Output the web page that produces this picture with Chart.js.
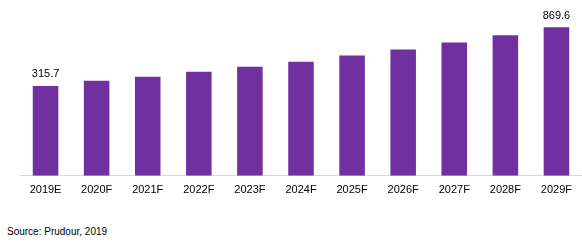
<!DOCTYPE html>
<html>
<head>
<meta charset="utf-8">
<script src="https://cdn.jsdelivr.net/npm/chart.js@4"></script>
<style>
    html, body { margin: 0; padding: 0; background: #fff; }
    #wrap { position: relative; width: 582px; height: 243px; }
    #chartBox { position: absolute; left: 0; top: 0; width: 582px; height: 205px; }
    #source {
        position: absolute; left: 7px; top: 226px;
        font: 10px "Liberation Sans", Arial, sans-serif; color: #000;
    }
</style>
</head>
<body>
<div id="wrap">
    <div id="chartBox"><canvas id="chart"></canvas></div>
    <div id="source">Source: Prudour, 2019</div>
</div>
<script>
"use strict";

// Chart data
const years = ["2019E", "2020F", "2021F", "2022F", "2023F", "2024F", "2025F", "2026F", "2027F", "2028F", "2029F"];
const values = [315.7, 364, 402, 450, 497, 545, 603, 660, 727, 794, 869.6];
const labelledBars = [0, 10];   // only first and last bars carry a value label

// Value axis is truncated in the original picture
const yMin = -534;
const yMax = 1128;

// Draw value labels above selected bars
const valueLabels = {
    id: "valueLabels",
    afterDatasetsDraw(chart) {
        const ctx = chart.ctx;
        const meta = chart.getDatasetMeta(0);
        ctx.save();
        ctx.font = "11px 'Liberation Sans', Arial, sans-serif";
        ctx.fillStyle = "#000";
        ctx.textAlign = "center";
        ctx.textBaseline = "bottom";
        labelledBars.forEach(function (i) {
            const bar = meta.data[i];
            ctx.fillText(values[i].toFixed(1), bar.x, bar.y - 6);
        });
        ctx.restore();
    }
};

const config = {
    type: "bar",
    data: {
        labels: years,
        datasets: [{
            data: values,
            base: yMin,
            backgroundColor: "#7030A0",
            barPercentage: 0.5,
            categoryPercentage: 1.0
        }]
    },
    options: {
        responsive: true,
        maintainAspectRatio: false,
        animation: false,
        layout: { padding: { left: 20, right: 0, top: 0, bottom: 0 } },
        plugins: {
            legend: { display: false },
            tooltip: { enabled: false }
        },
        scales: {
            x: {
                grid: { display: false, drawTicks: false },
                border: { display: true, color: "#d9d9d9", width: 1 },
                ticks: {
                    color: "#000",
                    padding: 8,
                    maxRotation: 0,
                    font: { family: "'Liberation Sans', Arial, sans-serif", size: 11 }
                }
            },
            y: {
                display: false,
                min: yMin,
                max: yMax
            }
        }
    },
    plugins: [valueLabels]
};

const chart = new Chart(document.getElementById("chart").getContext("2d"), config);
</script>
</body>
</html>
